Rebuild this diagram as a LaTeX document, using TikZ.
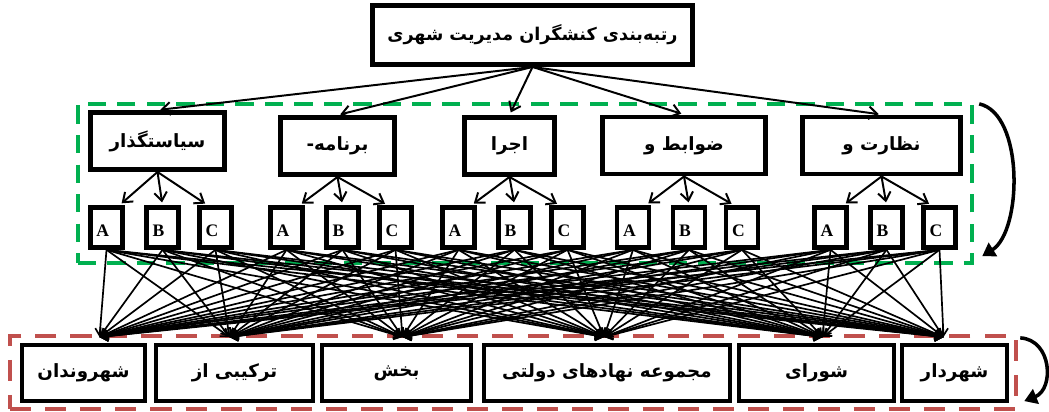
\documentclass[tikz,border=0pt]{standalone}
\usepackage{fontspec}
\setmainfont{Liberation Serif}
\newfontfamily\fa[Script=Arabic]{DejaVu Sans}
\TeXXeTstate=1
\usetikzlibrary{arrows.meta,calc}
\newcommand{\fatext}[1]{{\fa\bfseries\beginR #1\endR}}
\definecolor{grpgreen}{HTML}{00B050}
\definecolor{grpred}{HTML}{C0504D}
\begin{document}
\begin{tikzpicture}[x=0.025cm,y=-0.025cm,
    topbox/.style={draw,line width=3.5pt,fill=white,minimum width=8cm,minimum height=1.475cm,font=\fontsize{12.5}{15}\selectfont},
    midbox/.style={draw,line width=3.5pt,fill=white,minimum height=1.425cm,font=\fontsize{13}{15}\selectfont},
    abcbox/.style={draw,line width=3.3pt,fill=white,minimum width=0.8cm,minimum height=1cm,inner sep=0pt,text width=0.5cm,align=left,text height=1.25em,text depth=0pt,font=\fontsize{12.5}{14}\selectfont\bfseries},
    botbox/.style={draw,line width=2.8pt,fill=white,minimum height=1.4cm,font=\fontsize{13}{15}\selectfont},
    grnbox/.style={draw=grpgreen,line width=3pt,dash pattern=on 13pt off 8pt,minimum width=22.35cm,minimum height=3.975cm},
    redbox/.style={draw=grpred,line width=3pt,dash pattern=on 15pt off 10pt,minimum width=25.15cm,minimum height=1.825cm},
    arr/.style={line width=1.4pt,shorten >=2pt,-{Straight Barb[length=6pt,width=9pt]}},
    arrsm/.style={line width=1.2pt,-{Straight Barb[length=5pt,width=7pt]}},
    loop/.style={line width=2.5pt,-{Triangle[length=9pt,width=11pt]}}]
  \useasboundingbox (0,0) rectangle (1049,412);
  \node[grnbox] (grp) at (525,183.5) {};
  \node[redbox] (rgrp) at (513,372.5) {};
  \node[topbox] (top) at (532.5,35) {\fatext{رتبه^^^^200cبندی کنشگران مدیریت شهری}};
  \foreach \i/\x/\y/\w/\t in {1/157.5/141/134/سیاستگذار,2/337.5/146/114/برنامه-,3/509.5/146/90/اجرا,4/684/145.5/163/ضوابط و,5/881.5/145.5/158/نظارت و}{
    \node[midbox,minimum width=\w*0.025cm] (m\i) at (\x,\y) {\fatext{\t}};
    \begin{scope}[every node/.style={abcbox}]
      \node (m\i A) at (\x-51,227.5) {A};
      \node (m\i B) at (\x+5,227.5) {B};
      \node (m\i C) at (\x+58,227.5) {C};
    \end{scope}
    \draw[arr] (top.south) -- (m\i.north);
    \draw[arr] (m\i.south) -- ($(m\i A.north)+(13,0)$);
    \draw[arr] (m\i.south) -- (m\i B.north);
    \draw[arr] (m\i.south) -- ($(m\i C.north)+(-8,0)$);
  }
  \foreach \j/\x/\w/\dx/\t in {1/83.5/123/16/شهروندان,2/234.5/157/-5/ترکیبی از,3/396.5/149/6/بخش,4/607/246/-3/مجموعه نهادهای دولتی,5/816.5/155/6/شورای,6/954.5/105/-11/شهردار}{
    \node[botbox,minimum width=\w*0.025cm] (b\j) at (\x,373) {\fatext{\t}};
    \coordinate (t\j) at ($(b\j.north)+(\dx,-6)$);
  }
  \foreach \i in {1,...,5}
    \foreach \l in {A,B,C}
      \foreach \j in {1,...,6}
        \draw[arrsm] (m\i\l.south) -- (t\j);
  \draw[loop] ($(grp.north east)+(5,2)$) .. controls +(45,10) and +(40,-25) .. ($(grp.south east)+(8,-9)$);
  \draw[loop] ($(rgrp.north east)+(2,4)$) .. controls +(32,2) and +(30,-12) .. ($(rgrp.south east)+(6,-10)$);
\end{tikzpicture}
\end{document}
